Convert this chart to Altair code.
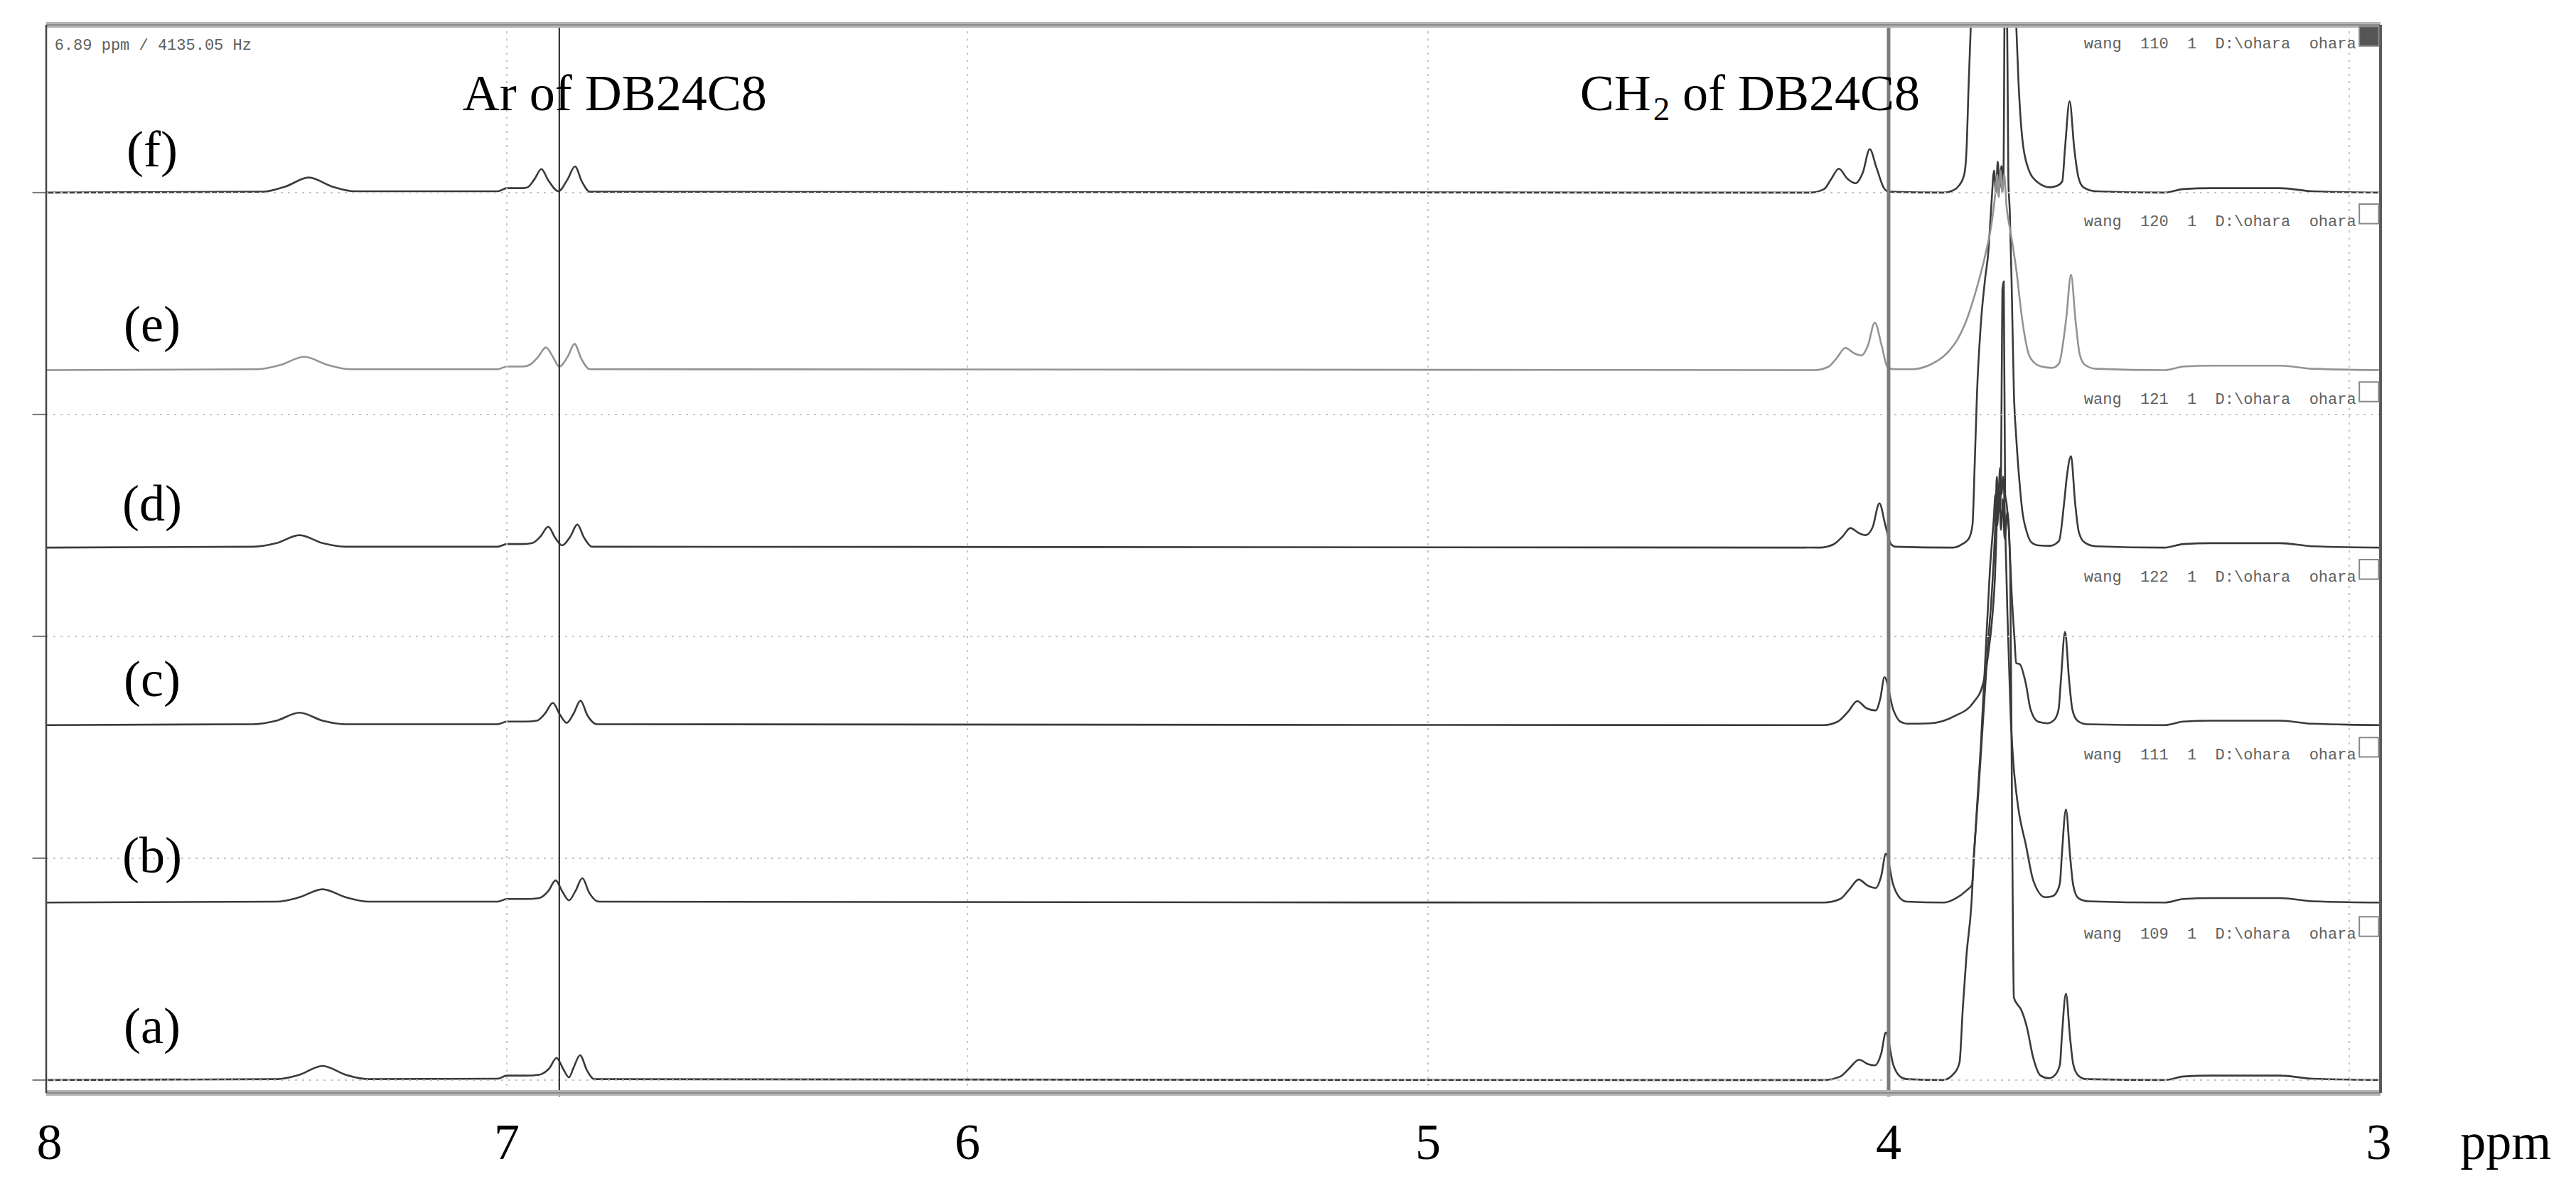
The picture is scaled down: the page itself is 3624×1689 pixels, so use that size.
import altair as alt
import pandas as pd

# ---------------- scale limits (ppm reversed, stacked intensity units) ----------------
XMIN, XMAX = 8.0, 2.932
YMIN, YMAX = -0.29, 23.78

# ---------------- spectra: (ppm, intensity above own baseline) ----------------
SPEC_NAMES = ["a", "b", "c", "d", "e", "f"]
SPEC_OFFSETS = [0, 4, 8, 12, 16, 20]
SPEC_COLORS = ["#3a3a3a", "#3a3a3a", "#3a3a3a", "#3a3a3a", "#939393", "#3a3a3a"]

SPEC_A = [(8.0, 0), (7.50, 0.02), (7.45, 0.12), (7.40, 0.32), (7.35, 0.12), (7.30, 0.02),
          (7.02, 0.03), (7.0, 0.10), (6.96, 0.10), (6.93, 0.12), (6.908, 0.26), (6.892, 0.5),
          (6.877, 0.24), (6.865, 0.06), (6.855, 0.28), (6.841, 0.56), (6.826, 0.22), (6.81, 0.02),
          (4.14, 0), (4.105, 0.08), (4.084, 0.28), (4.064, 0.46), (4.045, 0.36), (4.03, 0.33),
          (4.016, 0.6), (4.006, 1.07), (3.99, 0.35), (3.975, 0.08), (3.96, 0.02),
          (3.882, 0.0), (3.857, 0.16), (3.846, 0.4), (3.839, 1.6), (3.831, 2.8), (3.82, 4.0),
          (3.815, 5.0), (3.80, 7.5), (3.79, 9.5), (3.78, 11.5), (3.772, 12.6), (3.768, 13.2),
          (3.764, 12.5), (3.760, 13.3), (3.756, 12.4), (3.752, 13.1), (3.748, 12.2), (3.742, 12.8),
          (3.736, 11.5), (3.732, 6.0), (3.728, 1.86), (3.72, 1.7), (3.713, 1.6), (3.70, 1.2),
          (3.686, 0.5), (3.67, 0.1), (3.652, 0.04), (3.638, 0.12), (3.628, 0.35), (3.624, 0.95),
          (3.615, 1.95), (3.606, 0.95), (3.599, 0.35), (3.588, 0.1), (3.57, 0.02),
          (3.40, 0), (3.36, 0.08), (3.30, 0.1), (3.15, 0.1), (3.08, 0.03), (2.932, 0)]

SPEC_B = [(8.0, 0), (7.50, 0.02), (7.45, 0.12), (7.40, 0.30), (7.35, 0.12), (7.30, 0.02),
          (7.02, 0.02), (7.0, 0.08), (6.955, 0.08), (6.93, 0.1), (6.91, 0.26), (6.894, 0.5),
          (6.879, 0.24), (6.865, 0.05), (6.851, 0.26), (6.836, 0.55), (6.821, 0.22), (6.80, 0.02),
          (4.14, 0), (4.105, 0.08), (4.085, 0.3), (4.065, 0.52), (4.045, 0.38), (4.028, 0.33),
          (4.016, 0.6), (4.006, 1.1), (3.99, 0.4), (3.975, 0.1), (3.96, 0.02),
          (3.88, 0.0), (3.857, 0.08), (3.83, 0.28), (3.819, 0.4), (3.815, 1.05), (3.805, 2.5),
          (3.795, 4.1), (3.785, 5.7), (3.774, 7.3), (3.768, 8.6), (3.765, 9.6), (3.762, 9.0),
          (3.758, 9.8), (3.755, 9.2), (3.751, 9.6), (3.747, 8.5), (3.742, 6.5), (3.735, 4.2),
          (3.728, 3.0), (3.723, 2.5), (3.718, 2.1), (3.702, 1.3), (3.686, 0.5), (3.66, 0.12),
          (3.645, 0.14), (3.636, 0.22), (3.628, 0.45), (3.624, 1.05), (3.615, 2.1), (3.606, 1.05),
          (3.599, 0.38), (3.588, 0.1), (3.567, 0.03), (3.40, 0), (3.36, 0.08), (3.30, 0.1),
          (3.15, 0.1), (3.08, 0.03), (2.932, 0)]

SPEC_C = [(8.0, 0), (7.55, 0.02), (7.50, 0.10), (7.45, 0.28), (7.40, 0.10), (7.35, 0.02),
          (7.02, 0.02), (7.0, 0.08), (6.96, 0.08), (6.935, 0.1), (6.917, 0.26), (6.90, 0.50),
          (6.885, 0.24), (6.87, 0.05), (6.855, 0.26), (6.84, 0.55), (6.825, 0.22), (6.805, 0.02),
          (4.14, 0), (4.11, 0.08), (4.088, 0.3), (4.068, 0.54), (4.048, 0.38), (4.028, 0.33),
          (4.018, 0.6), (4.009, 1.08), (3.99, 0.35), (3.975, 0.08), (3.96, 0.03),
          (3.91, 0.04), (3.857, 0.2), (3.815, 0.52), (3.795, 0.93), (3.785, 1.5), (3.774, 2.54),
          (3.769, 3.35), (3.765, 4.6), (3.762, 5.3), (3.759, 4.8), (3.756, 5.5), (3.753, 9.8),
          (3.750, 10.0), (3.747, 5.2), (3.744, 5.0), (3.738, 4.2), (3.733, 3.0), (3.727, 2.0),
          (3.723, 1.4), (3.715, 1.37), (3.702, 0.93), (3.692, 0.36), (3.676, 0.08), (3.655, 0.04),
          (3.64, 0.12), (3.631, 0.35), (3.626, 1.0), (3.617, 2.1), (3.608, 1.0), (3.601, 0.35),
          (3.59, 0.1), (3.57, 0.02), (3.40, 0), (3.36, 0.08), (3.30, 0.1), (3.15, 0.1),
          (3.08, 0.03), (2.932, 0)]

SPEC_D = [(8.0, 0), (7.55, 0.02), (7.50, 0.10), (7.45, 0.28), (7.40, 0.10), (7.35, 0.02),
          (7.02, 0.02), (7.0, 0.08), (6.965, 0.08), (6.945, 0.1), (6.927, 0.25), (6.91, 0.47),
          (6.895, 0.22), (6.88, 0.05), (6.862, 0.25), (6.847, 0.52), (6.832, 0.22), (6.815, 0.02),
          (4.15, 0), (4.12, 0.07), (4.10, 0.25), (4.083, 0.44), (4.065, 0.33), (4.05, 0.28),
          (4.035, 0.45), (4.02, 1.0), (4.007, 0.5), (3.995, 0.08), (3.985, 0.02),
          (3.86, 0.0), (3.84, 0.08), (3.826, 0.2), (3.818, 0.5), (3.813, 1.9), (3.808, 3.5),
          (3.80, 5.0), (3.79, 6.1), (3.784, 6.6), (3.777, 7.7), (3.771, 8.5), (3.767, 8.0),
          (3.763, 8.7), (3.759, 8.1), (3.755, 8.6), (3.751, 8.2), (3.747, 13.5), (3.744, 13.5),
          (3.740, 8.3), (3.737, 7.6), (3.733, 6.0), (3.728, 3.5), (3.723, 2.5), (3.716, 1.5),
          (3.71, 0.85), (3.70, 0.35), (3.69, 0.12), (3.675, 0.05), (3.65, 0.04), (3.63, 0.15),
          (3.619, 1.0), (3.613, 1.6), (3.604, 2.06), (3.595, 1.0), (3.587, 0.35), (3.575, 0.12),
          (3.55, 0.03), (3.40, 0), (3.36, 0.08), (3.30, 0.1), (3.15, 0.1), (3.08, 0.03), (2.932, 0)]

SPEC_E = [(8.0, 0), (7.54, 0.02), (7.49, 0.12), (7.44, 0.30), (7.39, 0.12), (7.34, 0.02),
          (7.02, 0.02), (7.0, 0.08), (6.965, 0.08), (6.95, 0.12), (6.932, 0.30), (6.915, 0.51),
          (6.90, 0.30), (6.886, 0.08), (6.868, 0.30), (6.853, 0.59), (6.838, 0.25), (6.82, 0.02),
          (4.16, 0), (4.13, 0.08), (4.112, 0.28), (4.094, 0.50), (4.075, 0.38), (4.059, 0.33),
          (4.045, 0.55), (4.03, 1.07), (4.015, 0.55), (4.003, 0.08), (3.99, 0.02),
          (3.95, 0.02), (3.91, 0.12), (3.87, 0.42), (3.85, 0.7), (3.83, 1.15), (3.81, 1.8),
          (3.79, 2.6), (3.775, 3.4), (3.768, 4.0), (3.764, 4.4), (3.761, 3.9), (3.757, 4.5),
          (3.753, 4.0), (3.749, 4.4), (3.744, 3.7), (3.735, 3.1), (3.722, 2.2), (3.712, 1.3),
          (3.705, 0.8), (3.697, 0.4), (3.685, 0.18), (3.668, 0.08), (3.645, 0.05), (3.63, 0.15),
          (3.62, 0.7), (3.614, 1.2), (3.604, 2.15), (3.594, 1.1), (3.585, 0.35), (3.574, 0.12),
          (3.55, 0.03), (3.40, 0), (3.36, 0.08), (3.30, 0.1), (3.15, 0.1), (3.08, 0.03), (2.932, 0)]

SPEC_F = [(8.0, 0), (7.53, 0.02), (7.48, 0.14), (7.43, 0.34), (7.38, 0.14), (7.33, 0.03),
          (7.02, 0.03), (7.0, 0.10), (6.965, 0.10), (6.955, 0.12), (6.94, 0.30), (6.925, 0.53),
          (6.91, 0.28), (6.888, 0.03), (6.868, 0.30), (6.852, 0.59), (6.837, 0.25), (6.82, 0.02),
          (4.17, 0), (4.14, 0.08), (4.125, 0.30), (4.108, 0.54), (4.09, 0.32), (4.072, 0.21),
          (4.056, 0.45), (4.041, 0.98), (4.026, 0.55), (4.01, 0.10), (4.0, 0.02),
          (3.88, 0.0), (3.86, 0.05), (3.847, 0.16), (3.836, 0.40), (3.831, 0.93), (3.826, 2.5),
          (3.821, 3.9), (3.81, 7.0), (3.78, 10.0), (3.75, 10.0), (3.73, 6.0), (3.723, 3.8),
          (3.718, 2.5), (3.71, 1.24), (3.697, 0.55), (3.676, 0.23), (3.65, 0.12), (3.635, 0.15),
          (3.623, 0.25), (3.617, 1.0), (3.607, 2.06), (3.597, 1.0), (3.588, 0.35), (3.577, 0.12),
          (3.55, 0.03), (3.40, 0), (3.36, 0.08), (3.30, 0.1), (3.15, 0.1), (3.08, 0.03), (2.932, 0)]

SPECTRA = [SPEC_A, SPEC_B, SPEC_C, SPEC_D, SPEC_E, SPEC_F]

# ---------------- labels ----------------
NB = "\u00a0\u00a0"   # double gap as in the instrument labels
PANEL_LABELS = ["(a)", "(b)", "(c)", "(d)", "(e)", "(f)"]
PANEL_X = 7.77
PANEL_Y = [0.83, 4.68, 8.65, 12.61, 16.65, 20.59]

FILE_RUNS = ["109", "111", "122", "121", "120", "110"]
FILE_LABELS = ["wang" + NB + r + NB + "1" + NB + "D:\\ohara" + NB + "ohara" for r in FILE_RUNS]
FILE_Y = [3.30, 7.34, 11.35, 15.35, 19.36, 23.365]
FILE_X = 2.985
FILE_BOX_FILL = ["white", "white", "white", "white", "white", "#555555"]

CURSOR_TEXT = "6.89\u00a0ppm\u00a0/\u00a04135.05\u00a0Hz"

ANNOT_TEXT = ["Ar of DB24C8", "CH", "of DB24C8"]
ANNOT_X = [7.096, 4.670, 4.4475]
ANNOT_Y = 21.85
SUB_TEXT = "2"
SUB_X, SUB_Y = 4.511, 21.63

TICK_LABELS = ["8", "7", "6", "5", "4", "3"]
TICK_LABEL_X = [7.993, 7.0, 6.0, 5.0, 4.0, 2.936]
TICK_LABEL_Y = -1.78
UNIT_LABEL, UNIT_X = "ppm", 2.66

X_TICKS = [7.8, 7.6, 7.4, 7.2, 7.0, 6.8, 6.6, 6.4, 6.2, 6.0, 5.8, 5.6, 5.4, 5.2, 5.0,
           4.8, 4.6, 4.4, 4.2, 4.0, 3.8, 3.6, 3.4, 3.2, 3.0]
Y_TICKS = list(range(0, 24))
GRID_PPM = [7, 6, 5, 4, 3]
GRID_Y = [0, 5, 10, 15, 20]
CURSOR_PPM = [6.886, 4.0]
CURSOR_WIDTH = [2.2, 5]
CURSOR_COLOR = ["#333333", "#7c7c7c"]

# ---------------- tables ----------------
rows = []
for name, off, pts in zip(SPEC_NAMES, SPEC_OFFSETS, SPECTRA):
    for p, v in pts:
        rows.append({"spec": name, "ppm": p, "inten": v, "offset": off})
spec_df = pd.DataFrame(rows)

xs = alt.Scale(domain=[XMIN, XMAX], nice=False, zero=False)
ys = alt.Scale(domain=[YMIN, YMAX], nice=False, zero=False)


def X(f="ppm"):
    return alt.X(f + ":Q", scale=xs, axis=None)


def Y(f="y"):
    return alt.Y(f + ":Q", scale=ys, axis=None)


# grid
vgrid = alt.Chart(pd.DataFrame({"ppm": GRID_PPM, "y": [YMIN] * 5, "y2": [YMAX] * 5})).mark_rule(
    color="#c6c6c6", strokeWidth=2, strokeDash=[3, 7]).encode(x=X(), y=Y(), y2="y2:Q")
hgrid = alt.Chart(pd.DataFrame({"y": GRID_Y, "ppm": [XMIN] * 5, "ppm2": [XMAX] * 5})).mark_rule(
    color="#c6c6c6", strokeWidth=2, strokeDash=[3, 7]).encode(x=X(), x2="ppm2:Q", y=Y())

# spectra (carries the axes)
spectra = alt.Chart(spec_df).transform_calculate(y="datum.offset + datum.inten").mark_line(
    clip=True, interpolate="monotone", strokeWidth=2.6).encode(
    x=alt.X("ppm:Q", scale=xs, title=None,
            axis=alt.Axis(values=X_TICKS, labels=False, domain=False, grid=False,
                          tickSize=14, tickWidth=2, tickColor="#555555", offset=3)),
    y=alt.Y("y:Q", scale=ys, title=None,
            axis=alt.Axis(values=Y_TICKS, labels=False, domain=False, grid=False,
                          tickSize=10, tickWidth=2, tickColor="#8a8a8a")),
    color=alt.Color("spec:N", scale=alt.Scale(domain=SPEC_NAMES, range=SPEC_COLORS), legend=None),
    detail="spec:N",
    order=alt.Order("ppm:Q", sort="descending"),
)

# major y ticks (longer)
major_ticks = alt.Chart(pd.DataFrame({"y": GRID_Y, "ppm": [XMIN] * 5, "ppm2": [XMIN + 0.03] * 5})).mark_rule(
    color="#777777", strokeWidth=2).encode(x=X(), x2="ppm2:Q", y=Y())

# cursor lines
cursors = alt.Chart(pd.DataFrame({"ppm": CURSOR_PPM, "y": [YMIN - 0.08] * 2, "y2": [YMAX] * 2,
                                  "w": CURSOR_WIDTH, "c": CURSOR_COLOR})).mark_rule().encode(
    x=X(), y=Y(), y2="y2:Q", strokeWidth=alt.StrokeWidth("w:Q", scale=None),
    color=alt.Color("c:N", scale=None))

# frame
frame_df = pd.DataFrame({
    "ppm": [XMIN, XMIN, XMIN, XMIN, XMIN, XMAX],
    "ppm2": [XMAX, XMAX, XMAX, XMAX, XMIN, XMAX],
    "y": [YMAX, YMAX, YMIN, YMIN, YMIN, YMIN],
    "y2": [YMAX, YMAX, YMIN, YMIN, YMAX, YMAX],
    "w": [8, 2, 8, 2, 2.5, 4],
    "c": ["#b4b4b4", "#8a8a8a", "#b4b4b4", "#8a8a8a", "#444444", "#5a5a5a"],
})
frame = alt.Chart(frame_df).mark_rule().encode(
    x=X(), x2="ppm2:Q", y=Y(), y2="y2:Q",
    strokeWidth=alt.StrokeWidth("w:Q", scale=None), color=alt.Color("c:N", scale=None))

# file boxes at the right
box_df = pd.DataFrame({"y": [v + 0.38 for v in FILE_Y], "y2": [v - 0.06 for v in FILE_Y],
                       "ppm": [2.978] * 6, "ppm2": [2.936] * 6, "fill": FILE_BOX_FILL})
boxes = alt.Chart(box_df).mark_rect(stroke="#888888", strokeWidth=2).encode(
    x=X(), x2="ppm2:Q", y=Y(), y2="y2:Q", fill=alt.Fill("fill:N", scale=None))

# texts
SERIF = "Liberation Serif"
MONO = "Liberation Mono"

panel_txt = alt.Chart(pd.DataFrame({"t": PANEL_LABELS, "ppm": [PANEL_X] * 6, "y": PANEL_Y})).mark_text(
    font=SERIF, fontSize=72, align="center", baseline="alphabetic", color="black").encode(
    x=X(), y=Y(), text="t:N")

file_txt = alt.Chart(pd.DataFrame({"t": FILE_LABELS, "ppm": [FILE_X] * 6, "y": FILE_Y})).mark_text(
    font=MONO, fontSize=22, align="right", baseline="middle", color="#606060").encode(
    x=X(), y=Y(), text="t:N")

cursor_txt = alt.Chart(pd.DataFrame({"t": [CURSOR_TEXT], "ppm": [7.982], "y": [23.33]})).mark_text(
    font=MONO, fontSize=22, align="left", baseline="middle", color="#606060").encode(
    x=X(), y=Y(), text="t:N")

annot_txt = alt.Chart(pd.DataFrame({"t": ANNOT_TEXT, "ppm": ANNOT_X, "y": [ANNOT_Y] * 3})).mark_text(
    font=SERIF, fontSize=72, align="left", baseline="alphabetic", color="black").encode(
    x=X(), y=Y(), text="t:N")

sub_txt = alt.Chart(pd.DataFrame({"t": [SUB_TEXT], "ppm": [SUB_X], "y": [SUB_Y]})).mark_text(
    font=SERIF, fontSize=47, align="left", baseline="alphabetic", color="black").encode(
    x=X(), y=Y(), text="t:N")

tick_txt = alt.Chart(pd.DataFrame({"t": TICK_LABELS + [UNIT_LABEL],
                                   "ppm": TICK_LABEL_X + [UNIT_X],
                                   "y": [TICK_LABEL_Y] * 7})).mark_text(
    font=SERIF, fontSize=72, align="center", baseline="alphabetic", color="black").encode(
    x=X(), y=Y(), text="t:N")

chart = alt.layer(
    spectra, vgrid, hgrid, major_ticks, cursors, frame, boxes,
    panel_txt, file_txt, cursor_txt, annot_txt, sub_txt, tick_txt,
).properties(
    width=3284, height=1502,
    padding={"left": 57, "top": 27, "right": 258, "bottom": 140},
    autosize=alt.AutoSizeParams(type="none"),
    background="white",
).configure_view(stroke="transparent")

chart.save("out.html", embed_options={"renderer": "svg", "actions": False})
